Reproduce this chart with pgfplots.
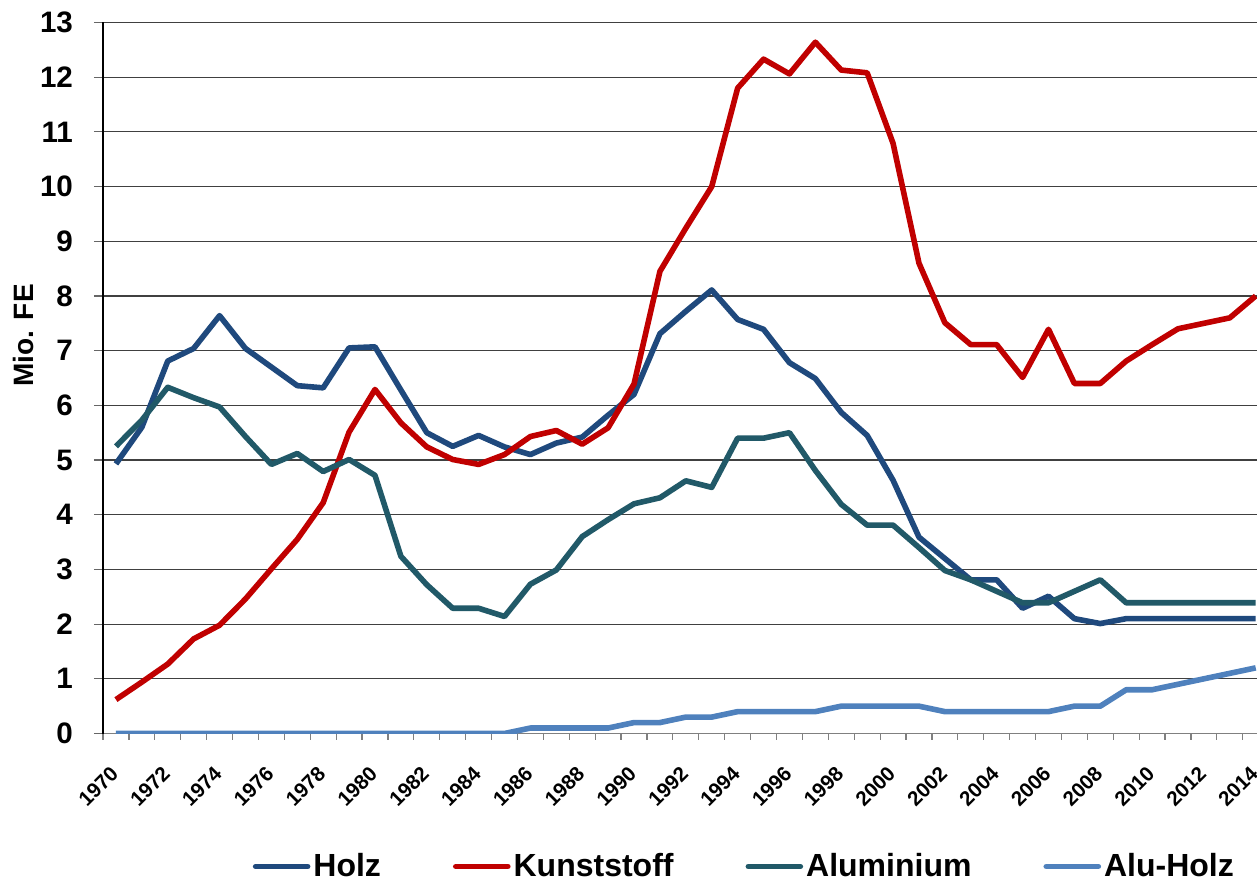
\documentclass[border=0pt]{standalone}
\usepackage{pgfplots}
\pgfplotsset{compat=1.18}
\usepackage{pgfplotstable}
\usepackage{fontspec}
\setmainfont{Liberation Sans}
\definecolor{holz}{HTML}{1F497D}
\definecolor{kunst}{HTML}{C00000}
\definecolor{alu}{HTML}{215968}
\definecolor{aluholz}{HTML}{4F81BD}
\pgfplotstableread{
year holz kunst alu aluholz
1970 4.93 0.62 5.25 0
1971 5.60 0.94 5.73 0
1972 6.81 1.27 6.33 0
1973 7.04 1.73 6.14 0
1974 7.64 1.98 5.97 0
1975 7.04 2.46 5.43 0
1976 6.70 3.01 4.92 0
1977 6.36 3.55 5.12 0
1978 6.32 4.22 4.79 0
1979 7.05 5.51 5.01 0
1980 7.07 6.29 4.72 0
1981 6.28 5.68 3.24 0
1982 5.50 5.24 2.72 0
1983 5.25 5.01 2.29 0
1984 5.45 4.92 2.29 0
1985 5.24 5.10 2.14 0
1986 5.10 5.43 2.73 0.1
1987 5.31 5.54 2.99 0.1
1988 5.42 5.29 3.60 0.1
1989 5.82 5.59 3.91 0.1
1990 6.20 6.39 4.20 0.2
1991 7.31 8.45 4.31 0.2
1992 7.72 9.24 4.62 0.3
1993 8.11 10.00 4.50 0.3
1994 7.57 11.80 5.40 0.4
1995 7.39 12.33 5.40 0.4
1996 6.78 12.06 5.50 0.4
1997 6.49 12.64 4.81 0.4
1998 5.87 12.13 4.19 0.5
1999 5.45 12.08 3.81 0.5
2000 4.63 10.79 3.81 0.5
2001 3.59 8.60 3.40 0.5
2002 3.20 7.51 2.98 0.4
2003 2.81 7.11 2.81 0.4
2004 2.81 7.11 2.60 0.4
2005 2.29 6.51 2.39 0.4
2006 2.51 7.39 2.39 0.4
2007 2.10 6.40 2.60 0.5
2008 2.01 6.40 2.81 0.5
2009 2.10 6.81 2.39 0.8
2010 2.10 7.11 2.39 0.8
2011 2.10 7.40 2.39 0.9
2012 2.10 7.50 2.39 1.0
2013 2.10 7.60 2.39 1.1
2014 2.10 8.00 2.39 1.2
}\datatable
\begin{document}
\begin{tikzpicture}
\begin{axis}[
  name=ax,
  scale only axis,
  width=577pt, height=355.5pt,
  xmin=1969.5, xmax=2014.05,
  ymin=0, ymax=13,
  ytick={0,1,...,13},
  xtick={1970,1972,...,2014},
  xticklabels={1970,1972,1974,1976,1978,1980,1982,1984,1986,1988,1990,1992,1994,1996,1998,2000,2002,2004,2006,2008,2010,2012,2014},
  minor xtick={1969.5,1970.5,...,2014.5},
  axis lines*=left,
  x axis line style={draw=black!50, line width=0.8pt},
  y axis line style={draw=black, line width=0.6pt},
  tick align=outside,
  major tick length=4.5pt,
  minor tick length=3pt,
  xtick style={draw=none},
  minor x tick style={draw=black!50, line width=0.6pt},
  ytick style={draw=black!60, line width=0.6pt},
  ymajorgrids,
  grid style={draw=black!75, line width=0.6pt},
  clip=true,
  /pgf/number format/assume math mode=true,
  yticklabel style={font=\fontsize{14.8}{16}\selectfont\bfseries, xshift=-7pt},
  xticklabel style={font=\fontsize{10.3}{12}\selectfont\bfseries, rotate=45, anchor=north east, inner sep=0pt, xshift=-10.2pt, yshift=-5.5pt},
  ylabel={Mio. FE},
  ylabel style={font=\fontsize{14}{16}\selectfont\bfseries, at={(axis description cs:-0.0693,0.56)}, anchor=center, rotate=0},
  legend columns=4,
  legend style={at={(0.1295,-0.187)}, anchor=west, draw=none, fill=none, inner sep=0pt,
    font=\fontsize{16}{18}\selectfont\bfseries,
    /tikz/every even column/.append style={column sep=34.5pt},
    nodes={inner sep=1.5pt}},
  legend image code/.code={\draw[#1, line width=2.8pt, line cap=round] (0pt,0pt) -- (26pt,0pt);},
  every axis plot/.append style={line width=2.8pt, line join=round},
]
\addplot[holz, mark=none] table[x=year, y=holz] {\datatable};
\addlegendentry{Holz}
\addplot[kunst, mark=none] table[x=year, y=kunst] {\datatable};
\addlegendentry{Kunststoff}
\addplot[alu, mark=none] table[x=year, y=alu] {\datatable};
\addlegendentry{Aluminium}
\addplot[aluholz, mark=none] table[x=year, y=aluholz] {\datatable};
\addlegendentry{Alu-Holz}
\end{axis}
\pgfresetboundingbox
\path ([xshift=-51.5pt, yshift=-75pt]ax.south west) rectangle ([yshift=11.25pt]ax.north east);
\end{tikzpicture}
\end{document}
